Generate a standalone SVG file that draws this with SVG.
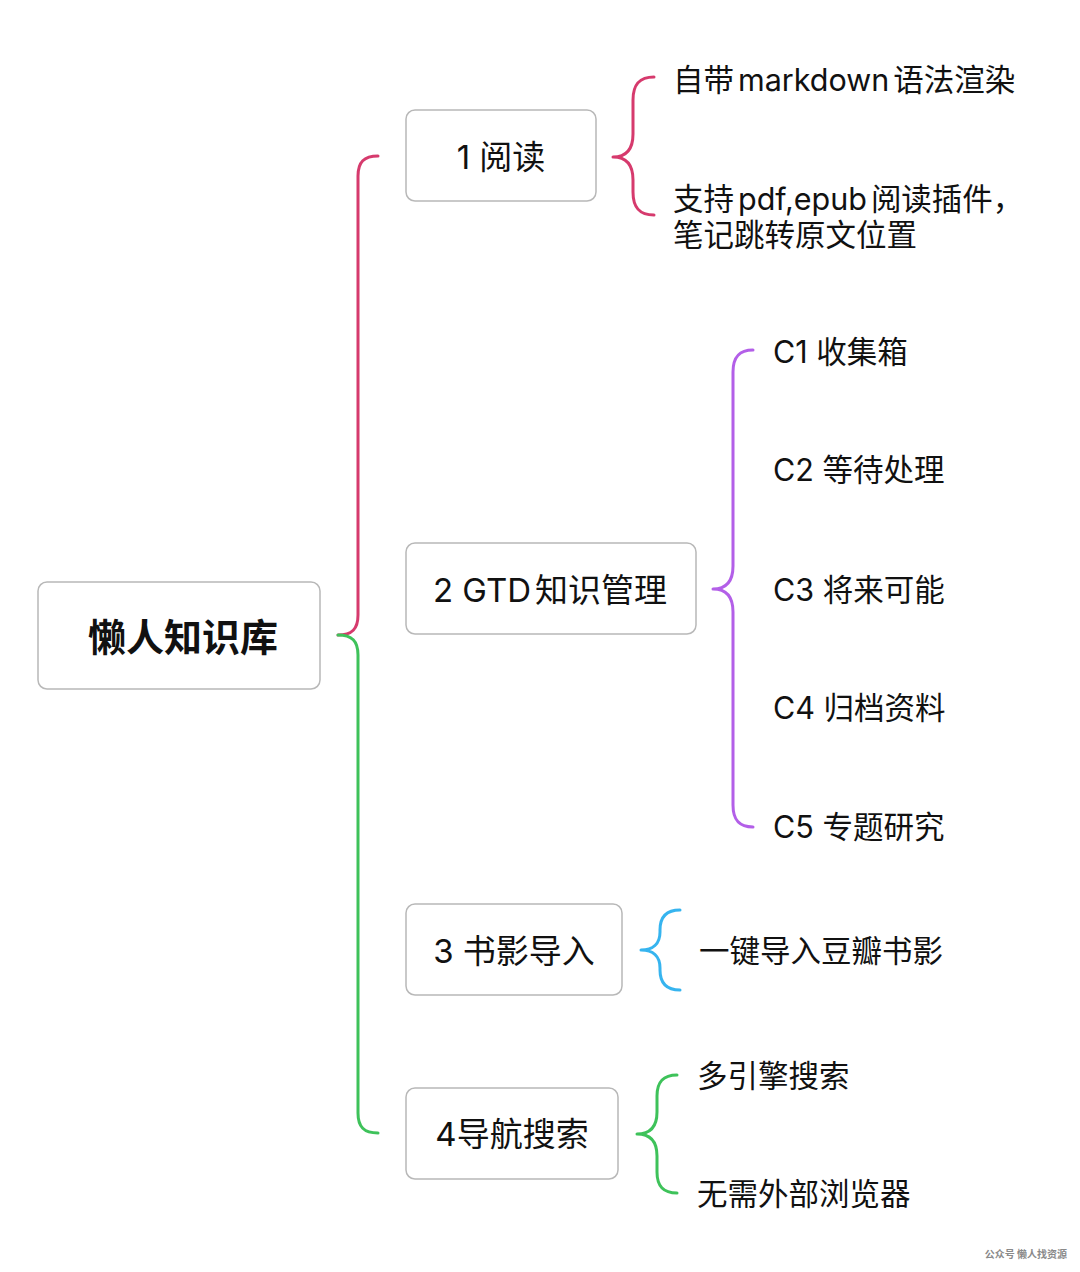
<svg xmlns="http://www.w3.org/2000/svg" width="1080" height="1272" viewBox="0 0 1080 1272">
<style>
.node rect{fill:#ffffff;stroke:#b8b8b8;stroke-width:1.5}
text{font-family:"Inter","Noto Sans CJK SC",sans-serif;fill:#111111}
.nt{font-size:33px;text-anchor:middle}
.root{font-size:38px;font-weight:bold;text-anchor:middle;font-family:"Noto Sans CJK SC",sans-serif}
.lt{font-size:30.5px}
.br{fill:none;stroke-width:3;stroke-linecap:round;stroke-linejoin:round}
.red{stroke:#d63a6d}
.grn{stroke:#3ec25a}
.pur{stroke:#b35fe8}
.blu{stroke:#36b4ef}
.wm{font-size:10px;font-weight:bold;fill:#8a8a8a;font-family:"Noto Sans CJK SC",sans-serif}
</style>
<rect width="1080" height="1272" fill="#ffffff"/>
<g id="connectors">
<path class="br red" d="M378,156 C364,156 358,162 358,176 L358,615 C358,629 352,635 338,635"/>
<path class="br grn" d="M338,635 C352,635 358,641 358,655 L358,1113 C358,1127 364,1133 378,1133"/>
<path class="br red" d="M654,77 C639,77 633,85 633,100 L633,134 C633,150 626,157 613,157 C626,157 633,164 633,180 L633,192 C633,207 639,215 654,215"/>
<path class="br pur" d="M753,350 C739,350 733,357 733,372 L733,566 C733,582 726,589 713,589 C726,589 733,596 733,612 L733,805 C733,820 739,827 753,827"/>
<path class="br blu" d="M680,910 C666,910 660,917 660,930 L660,932 C660,944 653,950 641,950 C653,950 660,956 660,968 L660,970 C660,983 666,990 680,990"/>
<path class="br grn" d="M677,1075 C663,1075 657,1082 657,1096 L657,1112 C657,1127 650,1134 637,1134 C650,1134 657,1141 657,1156 L657,1172 C657,1186 663,1193 677,1193"/>
</g>
<g id="root" class="node">
<rect x="38" y="582" width="282" height="107" rx="9"/>
<text class="root" x="183" y="651">懒人知识库</text>
</g>
<g id="n1" class="node">
<rect x="406" y="110" width="190" height="91" rx="9"/>
<text class="nt" x="501" y="169">1 阅读</text>
</g>
<g id="n1a"><text class="lt" x="673" y="91">自带<tspan dx="4">markdown</tspan><tspan dx="4">语法渲染</tspan></text></g>
<g id="n1b"><text class="lt" x="673" y="210">支持<tspan dx="4">pdf,epub</tspan><tspan dx="4">阅读插件，</tspan></text><text class="lt" x="673" y="246">笔记跳转原文位置</text></g>
<g id="n2" class="node">
<rect x="406" y="543" width="290" height="91" rx="9"/>
<text class="nt" x="550" y="602">2 GTD<tspan dx="4">知识管理</tspan></text>
</g>
<g id="c1"><text class="lt" x="773" y="363">C1 收集箱</text></g>
<g id="c2"><text class="lt" x="773" y="481">C2 等待处理</text></g>
<g id="c3"><text class="lt" x="773" y="601">C3 将来可能</text></g>
<g id="c4"><text class="lt" x="773" y="719">C4 归档资料</text></g>
<g id="c5"><text class="lt" x="773" y="838">C5 专题研究</text></g>
<g id="n3" class="node">
<rect x="406" y="904" width="216" height="91" rx="9"/>
<text class="nt" x="514" y="963">3 书影导入</text>
</g>
<g id="n3a"><text class="lt" x="699" y="962">一键导入豆瓣书影</text></g>
<g id="n4" class="node">
<rect x="406" y="1088" width="212" height="91" rx="9"/>
<text class="nt" x="512" y="1146">4导航搜索</text>
</g>
<g id="n4a"><text class="lt" x="697" y="1087">多引擎搜索</text></g>
<g id="n4b"><text class="lt" x="697" y="1205">无需外部浏览器</text></g>
<text class="wm" x="1067" y="1258" text-anchor="end">公众号 懒人找资源</text>
</svg>
